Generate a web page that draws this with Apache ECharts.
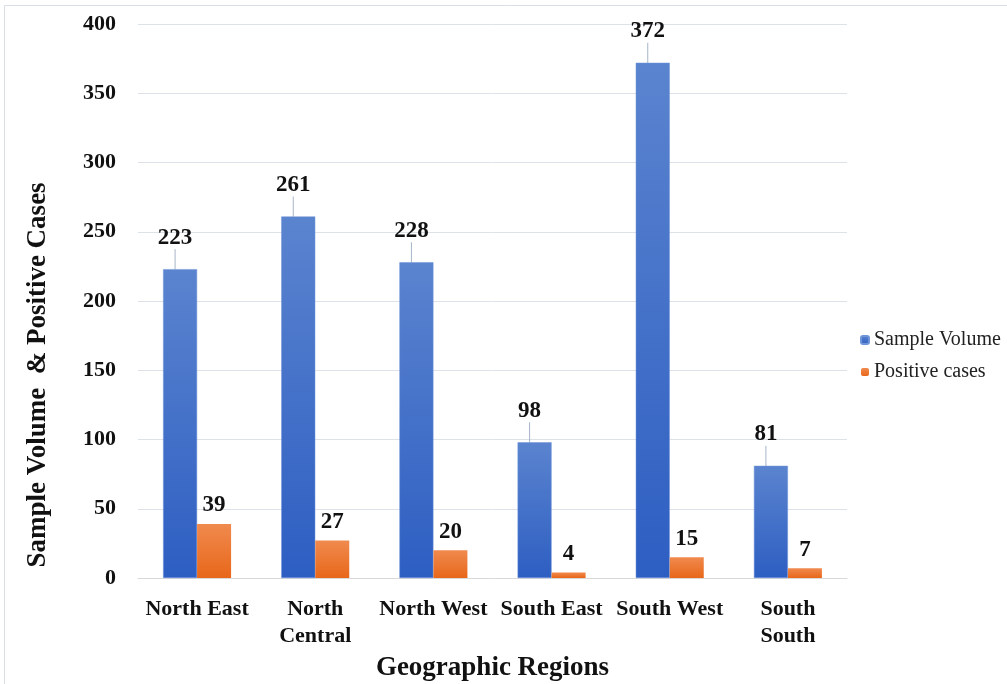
<!DOCTYPE html>
<html><head><meta charset="utf-8">
<script src="https://cdn.jsdelivr.net/npm/echarts@6/dist/echarts.min.js"></script>
<style>html,body{margin:0;padding:0;background:#fff}#c{width:1007px;height:684px}</style>
</head><body><div id="c"></div>
<script>
const categories = ['North East', 'North\nCentral', 'North West', 'South East', 'South West', 'South\nSouth'];
const sampleVolume = [223, 261, 228, 98, 372, 81];
const positiveCases = [39, 27, 20, 4, 15, 7];
const yTicks = [0, 50, 100, 150, 200, 250, 300, 350, 400];

const font = '"Liberation Serif", "Times New Roman", serif';
const chart = echarts.init(document.getElementById('c'));
chart.setOption({
  animation: false,
  backgroundColor: '#fff',
  graphic: [{type: 'rect', shape: {x: 4.5, y: 5.5, width: 1010, height: 690}, style: {fill: 'none', stroke: '#d9dde6', lineWidth: 1}}],
  grid: {left: 138, right: 160, top: 24, bottom: 106, outerBoundsMode: 'none', containLabel: false},
  legend: {
    orient: 'vertical', left: 855, top: 325, itemWidth: 8, itemHeight: 8, itemGap: 12,
    textStyle: {fontFamily: font, fontSize: 20, color: '#222'},
    data: ['Sample Volume', 'Positive cases']
  },
  xAxis: {
    type: 'category', data: categories,
    name: 'Geographic Regions', nameLocation: 'middle', nameGap: 76,
    nameTextStyle: {fontFamily: font, fontSize: 27, fontWeight: 'bold', color: '#111'},
    axisLine: {lineStyle: {color: '#d9d9d9'}}, axisTick: {show: false},
    axisLabel: {fontFamily: font, fontSize: 22, fontWeight: 'bold', color: '#111', margin: 18, lineHeight: 27, interval: 0}
  },
  yAxis: {
    type: 'value', min: 0, max: 400, interval: 50,
    name: 'Sample Volume  & Positive Cases', nameLocation: 'middle', nameGap: 86,
    nameTextStyle: {fontFamily: font, fontSize: 27, fontWeight: 'bold', color: '#111', padding: [0, 148, 0, 0]},
    axisLine: {show: false}, axisTick: {show: false},
    splitLine: {lineStyle: {color: '#dde1e8'}},
    axisLabel: {fontFamily: font, fontSize: 22, fontWeight: 'bold', color: '#111', margin: 22,
      formatter: v => yTicks.includes(v) ? String(v) : ''}
  },
  series: [
    {
      name: 'Sample Volume', type: 'bar', data: sampleVolume, barWidth: 34, barGap: '0%',
      itemStyle: {color: new echarts.graphic.LinearGradient(0, 0, 0, 1, [{offset: 0, color: '#5b84cf'}, {offset: 1, color: '#2d5ec2'}]), borderColor: '#6f95d8', borderWidth: 0.5},
      label: {show: true, position: 'top', distance: 20, fontFamily: font, fontSize: 23, fontWeight: 'bold', color: '#111'},
      labelLine: {show: true, lineStyle: {color: '#a6b4c8', width: 1}},
      labelLayout: {dx: -5}
    },
    {
      name: 'Positive cases', type: 'bar', data: positiveCases, barWidth: 34,
      itemStyle: {color: new echarts.graphic.LinearGradient(0, 0, 0, 1, [{offset: 0, color: '#f08a4e'}, {offset: 1, color: '#e8671a'}])},
      label: {show: true, position: 'top', distance: 7, fontFamily: font, fontSize: 23, fontWeight: 'bold', color: '#111'}
    }
  ]
});
</script></body></html>
